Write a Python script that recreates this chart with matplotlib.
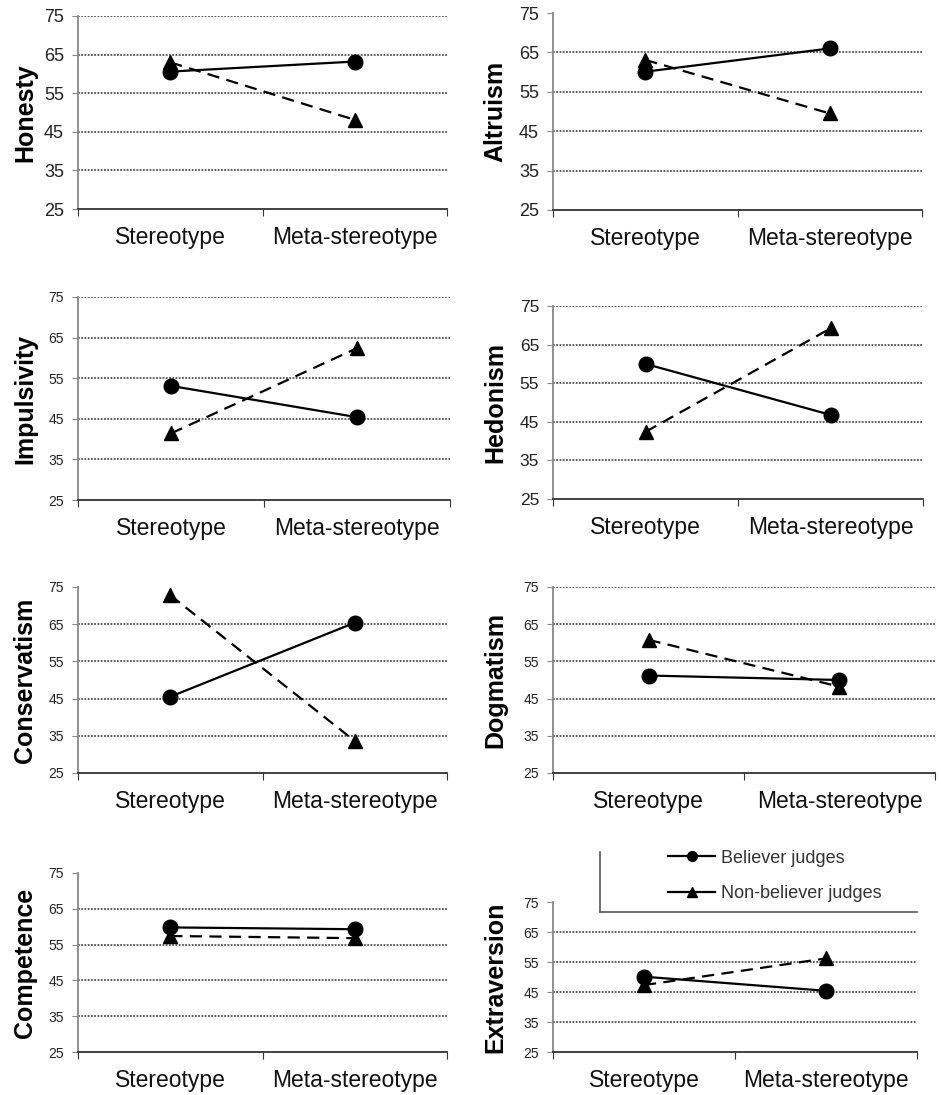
import matplotlib.pyplot as plt
from matplotlib.lines import Line2D

plt.rcParams["font.family"] = ["Liberation Sans", "DejaVu Sans"]

# ------------------------------------------------------------
# Dados
# ------------------------------------------------------------
categorias = ["Stereotype", "Meta-stereotype"]
tracos = ["Honesty", "Altruism", "Impulsivity", "Hedonism",
          "Conservatism", "Dogmatism", "Competence", "Extraversion"]

believer = {
    "Honesty": [60.6, 63.2],
    "Altruism": [60.1, 66.0],
    "Impulsivity": [53.1, 45.4],
    "Hedonism": [60.0, 46.8],
    "Conservatism": [45.5, 65.4],
    "Dogmatism": [51.2, 50.0],
    "Competence": [59.8, 59.3],
    "Extraversion": [50.1, 45.4],
}
non_believer = {
    "Honesty": [63.0, 48.1],
    "Altruism": [63.1, 49.5],
    "Impulsivity": [41.4, 62.4],
    "Hedonism": [42.4, 69.2],
    "Conservatism": [72.8, 33.6],
    "Dogmatism": [60.8, 48.2],
    "Competence": [57.4, 56.8],
    "Extraversion": [47.3, 56.2],
}
y_ticks = [25, 35, 45, 55, 65, 75]
legend_labels = ["Believer judges", "Non-believer judges"]

# ------------------------------------------------------------
# Layout (pixels: esquerda, direita, topo, base) e estilos
# ------------------------------------------------------------
W, H = 941, 1095
layout = {
    "Honesty": (78, 447, 16, 209),
    "Altruism": (553, 922, 13, 210),
    "Impulsivity": (78, 450, 297, 500),
    "Hedonism": (553, 923, 306, 499),
    "Conservatism": (78, 447, 587, 773),
    "Dogmatism": (553, 935, 587, 773),
    "Competence": (78, 447, 873, 1052),
    "Extraversion": (553, 917, 902, 1052),
}
tick_big = {"Honesty": 13, "Altruism": 13, "Hedonism": 12.5}
top_grid = {"Honesty", "Impulsivity", "Hedonism", "Dogmatism"}

fig = plt.figure(figsize=(W / 100, H / 100), dpi=100)


def px_axes(l, r, t, b):
    return fig.add_axes([l / W, 1 - b / H, (r - l) / W, (b - t) / H])


for nome in tracos:
    l, r, t, b = layout[nome]
    ax = px_axes(l, r, t, b)
    x = [0.5, 1.5]

    grid = [v for v in y_ticks[1:-1]] + ([75] if nome in top_grid else [])
    for g in grid:
        ax.axhline(g, color="#505050", linestyle=(0, (1, 0.8)), linewidth=1.3, zorder=1)

    ax.plot(x, non_believer[nome], color="black", linewidth=1.6, dashes=(5.5, 3.3),
            marker="^", markersize=10.5, zorder=3)
    ax.plot(x, believer[nome], color="black", linewidth=1.6,
            marker="o", markersize=10.5, zorder=4)

    ax.set_xlim(0, 2)
    ax.set_ylim(25, 75)
    ax.set_yticks(y_ticks)
    ax.set_xticks([0, 1, 2])
    ax.set_xticklabels([])
    ax.set_xticks(x, minor=True)
    ax.set_xticklabels(categorias, minor=True, fontsize=16.5, color="#111111")
    ax.tick_params(axis="x", which="minor", length=0, pad=12)
    ax.tick_params(axis="x", which="major", length=5, color="#333333")
    ax.tick_params(axis="y", length=4, color="#888888", pad=6,
                   labelsize=tick_big.get(nome, 10), labelcolor="#222222")

    for s in ["top", "right"]:
        ax.spines[s].set_visible(False)
    ax.spines["left"].set_color("#888888")
    ax.spines["left"].set_linewidth(1.3)
    ax.spines["bottom"].set_color("#333333")
    ax.spines["bottom"].set_linewidth(1.3)

    ax.set_ylabel(nome, fontsize=18, fontweight="bold", va="center")
    x_lab = 25 if l < 300 else 495
    ax.yaxis.set_label_coords((x_lab - l) / (r - l), 0.5)

# ------------------------------------------------------------
# Legenda (caixa aberta com linhas esquerda e inferior)
# ------------------------------------------------------------
lax = px_axes(600, 917, 852, 912)
lax.set_xticks([])
lax.set_yticks([])
lax.patch.set_alpha(0)
for s in ["top", "right"]:
    lax.spines[s].set_visible(False)
for s in ["left", "bottom"]:
    lax.spines[s].set_color("#555555")
    lax.spines[s].set_linewidth(1.2)

handles = [
    Line2D([], [], color="black", linewidth=1.6, marker="o", markersize=7),
    Line2D([], [], color="black", linewidth=1.6, marker="^", markersize=7),
]
lax.legend(handles, legend_labels, loc="center left", bbox_to_anchor=(0.215, 0.6),
           frameon=False, fontsize=13, handlelength=2.6, handletextpad=0.3,
           labelspacing=1.05, borderaxespad=0, borderpad=0, labelcolor="#333333")

fig.savefig("out.png", dpi=100)
